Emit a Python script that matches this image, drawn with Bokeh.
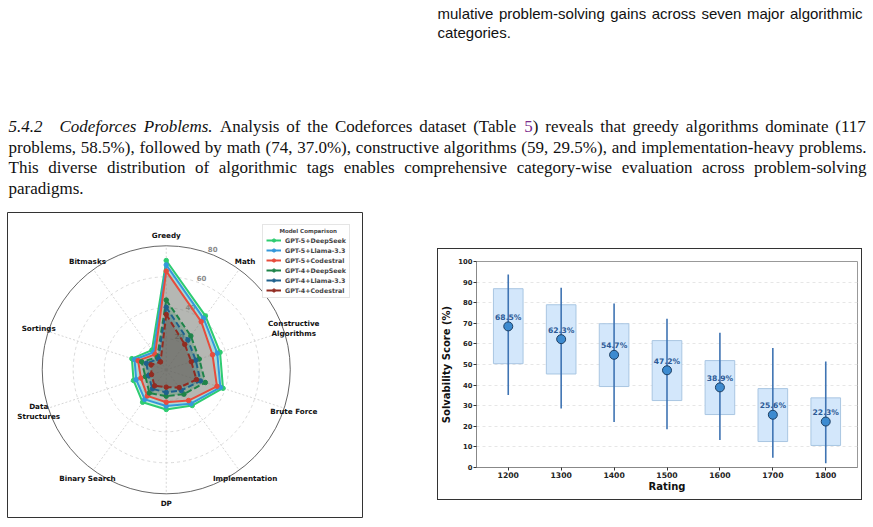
import math
from bokeh.plotting import figure
from bokeh.models import Range1d, Legend, LegendItem, FixedTicker, Spacer
from bokeh.layouts import column, row
from bokeh.embed import file_html
from bokeh.resources import INLINE
from bokeh.core.properties import value

# ---------------- data ----------------
categories = ["Greedy", "Math", "Constructive\nAlgorithms", "Brute Force", "Implementation",
              "DP", "Binary Search", "Data\nStructures", "Sortings", "Bitmasks"]
models = ["GPT-5+DeepSeek", "GPT-5+Llama-3.3", "GPT-5+Codestral",
          "GPT-4+DeepSeek", "GPT-4+Llama-3.3", "GPT-4+Codestral"]
gpt5_deepseek = [70.5, 43.0, 36.5, 38.5, 28.5, 25.6, 25.9, 22.2, 23.3, 15.7]
gpt5_llama = [67.7, 41.0, 34.6, 36.7, 27.0, 23.4, 23.6, 20.4, 21.5, 14.0]
gpt5_codestral = [63.7, 38.4, 31.4, 34.4, 24.5, 20.9, 20.8, 17.2, 19.1, 12.3]
gpt4_deepseek = [45.0, 27.0, 22.4, 26.5, 19.4, 17.0, 18.5, 14.1, 16.7, 9.9]
gpt4_llama = [40.4, 23.8, 20.0, 23.2, 16.5, 14.6, 15.2, 12.0, 13.5, 8.7]
gpt4_codestral = [35.7, 20.3, 17.0, 20.5, 14.2, 11.2, 12.8, 10.0, 10.3, 6.3]
radar_series = [gpt5_deepseek, gpt5_llama, gpt5_codestral, gpt4_deepseek, gpt4_llama, gpt4_codestral]
radial_ticks = [20, 40, 60, 80]
r_max = 80

ratings = ["1200", "1300", "1400", "1500", "1600", "1700", "1800"]
mean_score = [68.5, 62.3, 54.7, 47.2, 38.9, 25.6, 22.3]
box_low = [50.4, 45.4, 39.3, 32.5, 25.7, 12.6, 10.7]
box_high = [86.8, 79.0, 69.8, 61.6, 51.9, 38.3, 33.8]
whisker_low = [35.2, 28.6, 22.1, 18.6, 13.4, 4.7, 2.1]
whisker_high = [93.7, 87.2, 79.6, 72.2, 65.4, 58.0, 51.5]
y_ticks = [0, 10, 20, 30, 40, 50, 60, 70, 80, 90, 100]

caption_lines = ["mulative problem-solving gains across seven major algorithmic", "categories."]
body_lines = [
    "5.4.2 Codeforces Problems. Analysis of the Codeforces dataset (Table 5) reveals that greedy algorithms dominate (117",
    "problems, 58.5%), followed by math (74, 37.0%), constructive algorithms (59, 29.5%), and implementation-heavy problems.",
    "This diverse distribution of algorithmic tags enables comprehensive category-wise evaluation across problem-solving",
    "paradigms.",
]

# ---------------- font metrics for justification ----------------
SERIF = {' ': .25, '(': .333, ')': .333, ',': .25, '-': .333, '.': .25, '%': .833, ':': .278,
         'a': .444, 'b': .5, 'c': .444, 'd': .5, 'e': .444, 'f': .333, 'g': .5, 'h': .5, 'i': .278,
         'j': .278, 'k': .5, 'l': .278, 'm': .778, 'n': .5, 'o': .5, 'p': .5, 'q': .5, 'r': .333,
         's': .389, 't': .278, 'u': .5, 'v': .5, 'w': .722, 'x': .5, 'y': .5, 'z': .444,
         'A': .722, 'C': .667, 'P': .556, 'T': .611}
SERIF_IT = {' ': .25, '.': .25, 'a': .5, 'b': .5, 'c': .444, 'd': .5, 'e': .444, 'f': .278,
            'l': .278, 'm': .722, 'o': .5, 'r': .389, 's': .389, 'C': .667, 'P': .611}
SANS = {' ': .278, '-': .333, '.': .278, 'a': .556, 'b': .556, 'c': .5, 'd': .556, 'e': .556,
        'f': .278, 'g': .556, 'h': .556, 'i': .222, 'j': .222, 'k': .5, 'l': .222, 'm': .833,
        'n': .556, 'o': .556, 'p': .556, 'r': .333, 's': .5, 't': .278, 'u': .556, 'v': .5,
        'w': .722, 'y': .5}


def tw(s, table, size):
    return sum(table.get(c, 0.5) for c in s) * size


def justify(words, tables, x0, x1, size, full=True, space=0.25):
    widths = [tw(w, t, size) for w, t in zip(words, tables)]
    gap = (x1 - x0 - sum(widths)) / (len(words) - 1) if (full and len(words) > 1) else space * size
    xs, x = [], x0
    for w in widths:
        xs.append(x)
        x += w + gap
    return xs

# ---------------- page text ----------------
W = 873
pt = figure(width=W, height=205, x_range=Range1d(0, W), y_range=Range1d(205, 0),
            output_backend="svg", toolbar_location=None, x_axis_location=None, y_axis_location=None,
            min_border=0, outline_line_color=None)
pt.grid.grid_line_color = None

tx, ty, tt, tfont, tstyle, tcol = [], [], [], [], [], []

cap_size = 15.0
cap_y = [13, 31.5]
ws = caption_lines[0].split(" ")
for w, x in zip(ws, justify(ws, [SANS] * len(ws), 437, 862, cap_size)):
    tx.append(x); ty.append(cap_y[0]); tt.append(w)
    tfont.append("sans"); tstyle.append("normal"); tcol.append("#111111")
tx.append(437); ty.append(cap_y[1]); tt.append(caption_lines[1])
tfont.append("sans"); tstyle.append("normal"); tcol.append("#111111")

body_size = 17.0
body_y = [126, 146.5, 167, 187.5]
words = body_lines[0].split(" ")
tx.append(8); ty.append(body_y[0]); tt.append(words[0]); tfont.append("serif"); tstyle.append("italic"); tcol.append("#111111")
rest = words[1:]
tabs = [SERIF_IT, SERIF_IT] + [SERIF] * (len(rest) - 2)
x_start = 8 + tw(words[0], SERIF_IT, body_size) + body_size
for i, (w, x) in enumerate(zip(rest, justify(rest, tabs, x_start, 866, body_size))):
    st = "italic" if i < 2 else "normal"
    if w == "5)":
        tx.append(x); ty.append(body_y[0]); tt.append("5"); tfont.append("serif"); tstyle.append(st); tcol.append("#7a2a8c")
        tx.append(x + tw("5", SERIF, body_size)); ty.append(body_y[0]); tt.append(")"); tfont.append("serif"); tstyle.append(st); tcol.append("#111111")
    else:
        tx.append(x); ty.append(body_y[0]); tt.append(w); tfont.append("serif"); tstyle.append(st); tcol.append("#111111")
for li in (1, 2):
    words = body_lines[li].split(" ")
    for w, x in zip(words, justify(words, [SERIF] * len(words), 8, 866, body_size)):
        tx.append(x); ty.append(body_y[li]); tt.append(w); tfont.append("serif"); tstyle.append("normal"); tcol.append("#111111")
tx.append(8); ty.append(body_y[3]); tt.append(body_lines[3]); tfont.append("serif"); tstyle.append("normal"); tcol.append("#111111")

for fam, fname, size in (("serif", "Liberation Serif", body_size), ("sans", "Liberation Sans", cap_size)):
    for st in ("normal", "italic"):
        idx = [i for i in range(len(tt)) if tfont[i] == fam and tstyle[i] == st]
        if not idx:
            continue
        pt.text(x=[tx[i] for i in idx], y=[ty[i] for i in idx], text=[tt[i] for i in idx],
                text_color=[tcol[i] for i in idx], text_font=value(fname), text_font_style=st,
                text_font_size=f"{size}px", text_align="left", text_baseline="middle")

# ---------------- radar chart ----------------
pr = figure(width=370, height=322, x_range=Range1d(-102.4, 126.6), y_range=Range1d(-95.3, 101.5),
            output_backend="svg", toolbar_location=None, x_axis_location=None, y_axis_location=None,
            min_border_left=7, min_border_right=8, min_border_top=7, min_border_bottom=10)
pr.grid.grid_line_color = None
pr.outline_line_color = "#333333"
pr.outline_line_width = 1

n = len(categories)
theta = [2 * math.pi * i / n for i in range(n)]
pr.segment(x0=[0] * n, y0=[0] * n, x1=[r_max * math.sin(t) for t in theta],
           y1=[r_max * math.cos(t) for t in theta], line_color="#cccccc", line_width=0.8, line_dash="2 2")
pr.circle(x=[0] * 3, y=[0] * 3, radius=radial_ticks[:-1], fill_color=None,
          line_color="#d0d0d0", line_width=0.8, line_dash="3 3")
pr.circle(x=[0], y=[0], radius=[r_max], fill_color=None, line_color="#555555", line_width=0.9)
lab_ang = math.radians(21)
pr.text(x=[(t + 3.5) * math.sin(lab_ang) for t in radial_ticks],
        y=[(t + 3.5) * math.cos(lab_ang) for t in radial_ticks],
        text=[str(t) for t in radial_ticks], text_color="#8a8a8a", text_font=value("DejaVu Sans"),
        text_font_style="bold", text_font_size="7px", text_align="center", text_baseline="middle")

colors = ["#2ecc71", "#3498db", "#e74c3c", "#1e8449", "#1f618d", "#922b21"]
dashes = ["solid", "solid", "solid", "6 3", "6 3", "6 3"]
items = []
for name, vals, c, d in zip(models, radar_series, colors, dashes):
    xs = [v * math.sin(t) for v, t in zip(vals, theta)]
    ys = [v * math.cos(t) for v, t in zip(vals, theta)]
    pr.patch(xs, ys, fill_color=c, fill_alpha=0.25, line_color=None)
    lr = pr.line(xs + xs[:1], ys + ys[:1], line_color=c, line_width=2, line_dash=d)
    sr = pr.scatter(xs, ys, size=4.5, fill_color=c, line_color=c)
    items.append(LegendItem(label=name, renderers=[lr, sr]))

lab_r = 86.5
pr.text(x=[lab_r * math.sin(t) for t in theta], y=[lab_r * math.cos(t) for t in theta], text=categories,
        text_color="#111111", text_font=value("DejaVu Sans"), text_font_style="bold",
        text_font_size="7.2px", text_align="center", text_baseline="middle", text_line_height=1.15)

legend = Legend(items=items, location=(255, 219), title="\u00a0" * 7 + "Model Comparison",
                title_text_font_size="5.5px", title_text_font_style="bold", title_text_font="DejaVu Sans",
                title_standoff=2, label_text_font_size="6.3px", label_text_font_style="bold",
                label_text_font="DejaVu Sans", glyph_width=15, glyph_height=8, label_height=8,
                spacing=2, padding=3, margin=0, label_standoff=4,
                border_line_color="#cccccc", background_fill_color="white", background_fill_alpha=1)
pr.add_layout(legend)

# ---------------- rating chart ----------------
x_idx = list(range(len(ratings)))
pb = figure(width=423, height=250, x_range=Range1d(-0.6, 6.6), y_range=Range1d(0, 100),
            output_backend="svg", toolbar_location=None,
            min_border_left=38, min_border_right=4, min_border_top=12, min_border_bottom=32)
pb.xgrid.grid_line_color = None
pb.ygrid.grid_line_color = "#e6e6e6"
pb.ygrid.grid_line_dash = "3 3"
pb.outline_line_color = "#999999"
pb.vbar(x=x_idx, width=0.56, bottom=box_low, top=box_high, fill_color="#d3e7fb",
        line_color="#a9c6e2", line_width=1)
pb.segment(x0=x_idx, y0=whisker_low, x1=x_idx, y1=whisker_high, line_color="#3f74b3", line_width=1.6)
pb.scatter(x_idx, mean_score, size=9, fill_color="#3d8bd0", line_color="#1d3f63", line_width=1)
pb.text(x_idx, mean_score, text=[f"{v:.1f}%" for v in mean_score], y_offset=-9,
        text_color="#2c5a96", text_font=value("DejaVu Sans"), text_font_style="bold",
        text_font_size="7.6px", text_align="center", text_baseline="middle")

pb.xaxis.ticker = FixedTicker(ticks=x_idx)
pb.xaxis.major_label_overrides = {i: r for i, r in zip(x_idx, ratings)}
pb.yaxis.ticker = FixedTicker(ticks=y_ticks)
for ax in (pb.xaxis, pb.yaxis):
    ax.major_label_text_font = "DejaVu Sans"
    ax.major_label_text_font_style = "bold"
    ax.major_label_text_color = "#222222"
    ax.axis_line_color = "#888888"
    ax.major_tick_line_color = "#333333"
    ax.major_tick_out = 3
    ax.major_tick_in = 0
    ax.minor_tick_out = 0
    ax.minor_tick_in = 0
    ax.major_label_standoff = 1
    ax.axis_label_text_font = "DejaVu Sans"
    ax.axis_label_text_font_style = "bold"
    ax.axis_label_text_font_size = "10px"
    ax.axis_label_text_color = "#111111"
pb.xaxis.major_label_text_font_size = "7.7px"
pb.yaxis.major_label_text_font_size = "6.8px"
pb.xaxis.axis_label = "Rating"
pb.yaxis.axis_label = "Solvability Score (%)"
pb.xaxis.axis_label_standoff = 0
pb.yaxis.axis_label_standoff = 3

# black frame around the rating chart, built from thin spacers
edge = {"background-color": "#333333"}
boxed = column(Spacer(width=425, height=1, styles=edge),
               row(Spacer(width=1, height=250, styles=edge), pb, Spacer(width=1, height=250, styles=edge)),
               Spacer(width=425, height=1, styles=edge))
right_panel = column(Spacer(width=503, height=43),
                     row(Spacer(width=67, height=252), boxed, Spacer(width=11, height=252)),
                     Spacer(width=503, height=27))

layout = column(pt, row(pr, right_panel))
open("out.html", "w").write(file_html(layout, INLINE))
